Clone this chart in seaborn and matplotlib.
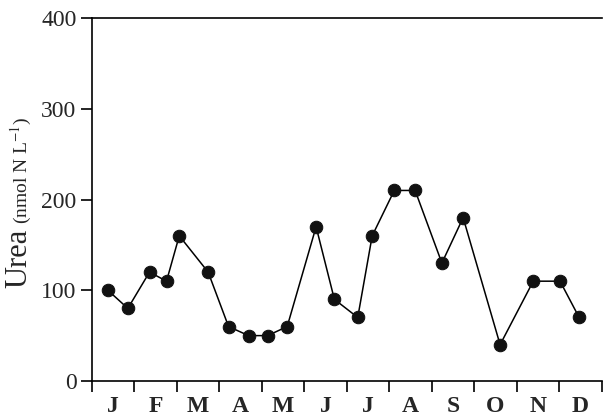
import matplotlib
matplotlib.use("Agg")
import matplotlib.pyplot as plt
import seaborn as sns
import pandas as pd
import numpy as np

# Data (x in months from start of year, y in nmol N/L)
months = ["J", "F", "M", "A", "M", "J", "J", "A", "S", "O", "N", "D"]
time_months = [0.38, 0.85, 1.36, 1.76, 2.06, 2.74, 3.22, 3.69, 4.14, 4.60, 5.28, 5.71,
               6.26, 6.60, 7.12, 7.61, 8.24, 8.74, 9.61, 10.39, 11.02, 11.47]
urea = [100, 80, 120, 110, 160, 120, 60, 50, 50, 60, 170, 90,
        70, 160, 210, 210, 130, 180, 40, 110, 110, 70]
y_ticks = [0, 100, 200, 300, 400]

df = pd.DataFrame({"t": time_months, "urea": urea})

sns.set_style("white")
plt.rcParams["font.family"] = ["Liberation Serif", "DejaVu Serif"]
plt.rcParams["mathtext.fontset"] = "stix"

fig = plt.figure(figsize=(6.05, 4.2), dpi=100)
ax = fig.add_axes([0.1516, 0.0929, 0.8429, 0.8641])

sns.lineplot(data=df, x="t", y="urea", ax=ax, color="black", linewidth=1.1,
             marker="o", markersize=9, markerfacecolor="#111111",
             markeredgecolor="#111111", sort=False)

ax.set_xlim(0, 12)
ax.set_ylim(0, 400)
ax.set_yticks(y_ticks)
ax.set_yticklabels([str(v) for v in y_ticks], fontsize=17)
ax.set_xticks(np.arange(0, 13, 1))
ax.set_xticklabels([])
ax.set_xticks(np.arange(0.5, 12, 1), minor=True)
ax.set_xticklabels(months, minor=True, fontsize=17, fontweight="bold")
ax.tick_params(axis="x", which="minor", length=0, pad=11)
ax.tick_params(axis="x", which="major", direction="out", length=8, width=1.2, color="black", bottom=True)
ax.tick_params(axis="y", which="major", direction="out", length=8, width=1.2, color="black", left=True, pad=3)

for s in ["left", "bottom", "top"]:
    ax.spines[s].set_visible(True)
    ax.spines[s].set_color("black")
    ax.spines[s].set_linewidth(1.2)
ax.spines["right"].set_visible(False)

ax.set_xlabel("")
ax.set_ylabel("")

fig.text(0.032, 0.386, "Urea", rotation=90, fontsize=22, ha="center", va="center")
fig.text(0.036, 0.595, r"(nmol N L$^{-1}$)", rotation=90, fontsize=14, ha="center", va="center")

fig.savefig("out.png", dpi=100)
